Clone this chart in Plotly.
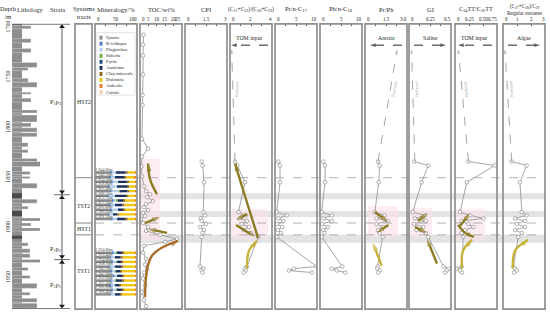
import plotly.graph_objects as go

W, H = 550, 313
FONT = "Liberation Serif, DejaVu Serif, serif"
TXT = "#2b2b2b"


def px(x):
    return x / W


def py(y):
    return 1 - y / H


# ---------------- data ----------------
depth_ticks = [1700, 1750, 1800, 1850, 1900, 1950]
depth_top, depth_bottom = 1696.5, 1981.0

column_top, column_bottom, column_width = 1696.5, 1980.5, 10
lith_top = [1698.5, 1711.4, 1721.2, 1735.1, 1740.1, 1750.9, 1754.8, 1764.7, 1770.7, 1782.5,
            1787.5, 1795.4, 1800.3, 1805.2, 1815.1, 1822.0, 1830.9, 1833.9, 1843.8, 1848.7,
            1855.6, 1871.4, 1878.4, 1890.2, 1895.2, 1900.1, 1915.0, 1920.9, 1925.8, 1931.7,
            1939.6, 1947.5, 1955.4, 1964.3, 1970.3, 1975.2]
lith_bot = [1701.5, 1715.3, 1725.2, 1740.1, 1743.0, 1754.8, 1759.8, 1766.7, 1774.6, 1785.5,
            1794.4, 1799.3, 1804.3, 1809.2, 1819.1, 1825.0, 1833.9, 1838.9, 1846.7, 1850.7,
            1860.6, 1875.4, 1881.3, 1893.2, 1898.1, 1903.1, 1918.0, 1924.8, 1929.8, 1934.7,
            1942.6, 1950.5, 1960.4, 1967.2, 1974.2, 1980.1]
lith_ext = [19, 19, 19, 25, 16, 16, 25, 19, 19, 25,
            25, 19, 25, 25, 16, 16, 25, 43, 18, 18,
            25, 25, 16, 43, 19, 28, 16, 18, 18, 43,
            16, 18, 25, 18, 25, 25]
dark_top = [1865.5, 1883.3, 1908.0]
dark_bot = [1870.5, 1888.2, 1911.0]

strata_bounds = [1867.0, 1931.7]
strata_names = ["P<sub>1</sub>p<sub>3</sub>", "P<sub>1</sub>p<sub>2</sub>", "P<sub>1</sub>p<sub>1</sub>"]
strata_label_depths = [1774.6, 1920.8, 1957.4]

tract_bounds = [1850.0, 1895.2, 1907.0]
tract_names = ["HST2", "TST2", "HST1", "TST1"]
tract_label_depths = [1774.6, 1878.4, 1901.1, 1942.6]

band_top = [1865.5, 1883.3, 1907.0]
band_bot = [1871.4, 1889.2, 1915.0]

mineral_names = ["Quartz", "K-feldspar", "Plagioclase", "Siderite", "Pyrite", "Analcime",
                 "Clay minerals", "Dolomite", "Ankerite", "Calcite"]
mineral_colors = ["#8c8c8c", "#4f81bd", "#b7cde8", "#70ad47", "#1f4e79", "#1c2f5e",
                  "#8c6a2a", "#efc70f", "#ed7d31", "#f8cbad"]
mineral_depths = [1844.8, 1849.5, 1854.2, 1858.8, 1863.4, 1868.1, 1872.7, 1877.3, 1882.0, 1886.6, 1891.2,
                  1924.8, 1929.4, 1934.0, 1938.7, 1943.3, 1947.9, 1952.6, 1957.2, 1961.8, 1966.4]
quartz = [38, 35, 40, 33, 36, 30, 42, 35, 38, 32, 40, 42, 36, 40, 34, 38, 44, 37, 35, 40, 36]
k_feldspar = [2, 3, 2, 2, 3, 2, 2, 2, 2, 2, 2, 2, 2, 3, 2, 2, 2, 2, 3, 2, 2]
plagioclase = [12, 10, 14, 18, 20, 16, 8, 12, 15, 10, 12, 8, 10, 8, 12, 9, 8, 10, 11, 9, 10]
siderite = [0, 0, 0, 0, 2, 0, 3, 0, 2, 0, 0, 2, 0, 3, 0, 2, 0, 3, 0, 2, 0]
pyrite = [1, 1, 2, 1, 1, 1, 1, 2, 1, 1, 1, 1, 1, 1, 1, 1, 1, 1, 1, 1, 1]
analcime = [20, 22, 18, 24, 15, 25, 12, 14, 10, 8, 18, 10, 12, 8, 14, 9, 10, 12, 9, 10, 11]
clay = [5, 4, 6, 4, 5, 6, 4, 5, 4, 5, 5, 4, 5, 4, 5, 4, 4, 5, 4, 5, 4]
dolomite = [18, 20, 14, 14, 14, 16, 24, 26, 24, 38, 18, 27, 30, 29, 28, 31, 27, 26, 33, 27, 32]
ankerite = [2, 3, 2, 2, 2, 2, 2, 2, 2, 2, 2, 2, 2, 2, 2, 2, 2, 2, 2, 2, 2]
calcite = [2, 2, 2, 2, 2, 2, 2, 2, 2, 2, 2, 2, 2, 2, 2, 2, 2, 2, 2, 2, 2]

toc_depth = [1707.4, 1717.3, 1728.2, 1747.0, 1767.7, 1777.6, 1811.2, 1821.0, 1829.0, 1838.8,
             1848.7, 1858.6, 1863.5, 1866.5, 1869.5, 1873.4, 1876.4, 1879.4, 1882.3, 1885.3,
             1888.2, 1891.2, 1895.2, 1899.1, 1903.1, 1907.0, 1911.0, 1914.0, 1917.9, 1924.8,
             1930.8, 1936.7, 1940.7, 1944.6, 1950.5, 1957.4, 1964.3, 1972.2, 1978.2]
toc = [2.1, 1.8, 1.8, 1.8, 1.5, 1.5, 1.2, 4.8, 1.2, 0.9,
       1.2, 2.4, 3.6, 6.0, 4.2, 7.7, 3.6, 2.4, 4.8, 1.8,
       3.0, 0.6, 1.8, 4.8, 3.6, 12.0, 22.0, 15.0, 2.4, 1.8,
       3.6, 3.0, 4.2, 2.4, 1.8, 3.0, 1.2, 2.4, 3.6]

geo_depth = [1833.9, 1837.8, 1854.6, 1884.3, 1887.6, 1890.6, 1893.2, 1896.2, 1899.2, 1902.2,
             1905.1, 1909.1, 1938.6, 1940.7, 1942.6, 1944.6]
cpi = [1.19, 1.26, 1.36, 1.31, 1.43, 1.12, 1.19, 1.50, 1.07, 1.36, 1.26, 1.19, 1.07, 1.31, 1.19, 1.26]
c21_c28 = [0.48, 0.70, 1.43, 0.80, 1.50, 0.90, 1.60, 1.10, 1.80, 1.30, 2.00, 2.70, 1.60, 1.43, 1.50, 1.30]
pr_nc17 = [0.8, 1.2, 1.2, 0.4, 2.8, 0.8, 2.0, 0.5, 1.7, 0.7, 1.4, 0.4, 9.9, 4.5, 3.3, 8.8]
ph_nc18 = [0.8, 1.2, 1.2, 0.4, 2.8, 0.8, 2.8, 0.5, 1.9, 0.8, 1.1, 0.4, 5.3, 2.8, 4.0, 6.0]
pr_ph = [0.93, 1.05, 0.98, 0.70, 1.40, 0.82, 1.63, 0.82, 1.28, 0.93, 1.05, 1.26, 0.90, 0.88, 1.05, 0.95]
gi = [0.06, 0.23, 0.15, 0.044, 0.19, 0.07, 0.20, 0.06, 0.17, 0.09, 0.20, 0.23, 0.41, 0.47, 0.45, 0.43]
c24_c26 = [0.24, 0.71, 0.21, 0.09, 0.27, 0.51, 0.12, 0.24, 0.33, 0.18, 0.12, 0.15, 0.12, 0.03, 0.09, 0.125]
steranes = [0.62, 1.69, 1.21, 1.34, 1.69, 0.86, 1.57, 0.98, 1.57, 0.86, 1.34, 1.09, 0.74, 0.86, 0.98, 0.79]

# predicted trends, listed bottom -> top
pred_depth = [1833.9, 1722.0]
c21_pred = [0.48, 0.16]
prph_pred = [0.93, 2.30]
gi_pred = [0.07, 0.03]
c24_pred = [0.24, 0.06]
ster_pred = [0.62, 0.14]

# ---------------- panels ----------------
panels = [
    ("x2", 95, 137, [0, 100], [0, 25, 50, 75, 100], ["0", "", "50", "", "100"], "Mineralogy/%", 6.5, 1),
    ("x3", 140, 182, [0, 25], [0, 5, 10, 15, 20, 25], ["0", "5", "10", "15", "20", "25"], "TOC/wt%", 6.5, 1),
    ("x4", 185, 227, [0, 3], [0, 0.75, 1.5, 2.25, 3], ["0", "", "1.5", "", "3"], "CPI", 6.5, 1),
    ("x5", 230, 272, [0, 4], [0, 1, 2, 3, 4], ["0", "", "2", "", "4"],
     "(C<sub>21</sub>+C<sub>22</sub>)/(C<sub>28</sub>+C<sub>29</sub>)", 5.6, 1),
    ("x6", 275, 317, [0, 10], [0, 2.5, 5, 7.5, 10], ["0", "", "5", "", "10"], "Pr/n-C<sub>17</sub>", 6.5, 1),
    ("x7", 320, 362, [0, 10], [0, 2.5, 5, 7.5, 10], ["0", "", "5", "", "10"], "Ph/n-C<sub>18</sub>", 6.5, 1),
    ("x8", 365, 407, [0, 3], [0, 0.75, 1.5, 2.25, 3], ["0", "", "1.5", "", "3.0"], "Pr/Ph", 6.5, 1),
    ("x9", 409, 451, [0, 0.5], [0, 0.125, 0.25, 0.375, 0.5], ["0", "", "0.25", "", "0.5"], "GI", 6.5, 1),
    ("x10", 455, 497, [0, 0.75], [0, 0.25, 0.5, 0.75], ["0", "0.25", "0.50", "0.75"],
     "C<sub>24</sub>TT/C<sub>26</sub>TT", 6.2, 1),
    ("x11", 503, 545, [0, 3], [0, 1, 2, 3], ["0", "1", "2", "3"],
     "(C<sub>27</sub>+C<sub>28</sub>)/C<sub>29</sub><br>Regular steranes", 5.3, 2),
]

fig = go.Figure()
LINE_C = "#8f8f8f"


def noinfo(**kw):
    kw.setdefault("showlegend", False)
    kw.setdefault("hoverinfo", "skip")
    return kw


# ---- lithology ----
fig.add_trace(go.Bar(**noinfo(x=[column_width], y=[(column_top + column_bottom) / 2],
                              width=[column_bottom - column_top], base=0, orientation="h", xaxis="x", yaxis="y",
                              marker=dict(color="#8e8e8e", line=dict(width=0)))))
fig.add_trace(go.Bar(**noinfo(x=lith_ext, y=[(a + b) / 2 for a, b in zip(lith_top, lith_bot)],
                              width=[b - a for a, b in zip(lith_top, lith_bot)], base=0, orientation="h",
                              xaxis="x", yaxis="y",
                              marker=dict(color="#8e8e8e", line=dict(color="#ffffff", width=0.3)))))
fig.add_trace(go.Bar(**noinfo(x=[column_width] * len(dark_top), y=[(a + b) / 2 for a, b in zip(dark_top, dark_bot)],
                              width=[b - a for a, b in zip(dark_top, dark_bot)], base=0, orientation="h",
                              xaxis="x", yaxis="y", marker=dict(color="#4a4a4a", line=dict(width=0)))))

# ---- strata arrowheads (hidden axis x12) ----
strata_x = 62
tri_depths = [depth_top + 3.0] + [b + s for b in strata_bounds for s in (-3.0, 3.0)] + [column_bottom - 2.5]
tri_syms = ["triangle-up"] + ["triangle-down", "triangle-up"] * len(strata_bounds) + ["triangle-down"]
fig.add_trace(go.Scatter(**noinfo(x=[strata_x] * len(tri_depths), y=tri_depths, mode="markers",
                                  xaxis="x12", yaxis="y",
                                  marker=dict(symbol=tri_syms, size=5, color="#111", line=dict(width=0)))))

# ---- mineralogy ----
mineral_values = [quartz, k_feldspar, plagioclase, siderite, pyrite, analcime, clay, dolomite, ankerite, calcite]
cum = [0] * len(mineral_depths)
for name, color, vals in zip(mineral_names, mineral_colors, mineral_values):
    fig.add_trace(go.Bar(**noinfo(x=vals, y=mineral_depths, base=list(cum), width=2.4, orientation="h",
                                  xaxis="x2", yaxis="y", marker=dict(color=color, line=dict(width=0)), name=name)))
    cum = [c + v for c, v in zip(cum, vals)]
fig.add_trace(go.Scatter(**noinfo(x=[1] * len(mineral_depths), y=[d - 2.3 for d in mineral_depths],
                                  text=[f"{d:,.2f}m" for d in mineral_depths], mode="text",
                                  textposition="middle right",
                                  textfont=dict(size=4.0, family=FONT, color="#444"), xaxis="x2", yaxis="y")))


def series(xvals, yvals, axis):
    fig.add_trace(go.Scatter(**noinfo(x=xvals, y=yvals, mode="lines+markers", xaxis=axis, yaxis="y",
                                      line=dict(color=LINE_C, width=0.8),
                                      marker=dict(symbol="circle", size=3.6, color="white",
                                                  line=dict(color="#7d7d7d", width=0.6)))))


series(toc, toc_depth, "x3")
series(cpi, geo_depth, "x4")
series(c21_c28, geo_depth, "x5")
series(pr_nc17, geo_depth, "x6")
series(ph_nc18, geo_depth, "x7")
series(pr_ph, geo_depth, "x8")
series(gi, geo_depth, "x9")
series(c24_c26, geo_depth, "x10")
series(steranes, geo_depth, "x11")


def arrow_line(axis, xs, ys, color, width, dash="solid", shape="linear", head=6):
    n = len(xs)
    fig.add_trace(go.Scatter(**noinfo(x=xs, y=ys, mode="lines+markers", xaxis=axis, yaxis="y",
                                      line=dict(color=color, width=width, dash=dash, shape=shape),
                                      marker=dict(symbol=["circle"] * (n - 1) + ["arrow"],
                                                  size=[0] * (n - 1) + [head], angleref="previous",
                                                  color=color, line=dict(width=0)))))


preds = [("x5", c21_pred, -88), ("x8", prph_pred, -79), ("x9", gi_pred, -92),
         ("x10", c24_pred, -95), ("x11", ster_pred, -94)]
for axis, vals, ang in preds:
    arrow_line(axis, vals, pred_depth, "#9a9a9a", 0.9, dash="dash", head=4.5)

# ---- trend arrows (axis, points [(x, depth)...] tail -> head, color) ----
OLIVE = "#8b7b22"
YEL = "#c6b23a"
ORNG = "#a86e2a"
trend_arrows = [
    ("x3", [(10.1, 1866.5), (6.0, 1851.7), (4.8, 1835.9)], OLIVE),
    ("x3", [(3.0, 1895.2), (11.9, 1889.2)], OLIVE),
    ("x3", [(16.1, 1905.1), (4.8, 1901.1)], OLIVE),
    ("x3", [(3.0, 1969.3), (7.1, 1927.8), (22.6, 1913.0)], ORNG),
    ("x5", [(2.67, 1910.0), (1.43, 1868.5), (0.48, 1835.9)], OLIVE),
    ("x5", [(1.62, 1886.3), (0.57, 1892.2)], OLIVE),
    ("x5", [(0.57, 1897.1), (2.38, 1909.0)], OLIVE),
    ("x5", [(1.62, 1940.6), (1.81, 1922.8), (2.57, 1913.0)], YEL),
    ("x8", [(0.70, 1884.3), (1.67, 1894.2)], OLIVE),
    ("x8", [(1.67, 1897.1), (0.84, 1905.1)], OLIVE),
    ("x8", [(1.19, 1937.7), (0.56, 1914.9)], YEL),
    ("x9", [(0.107, 1893.2), (0.226, 1885.3)], OLIVE),
    ("x9", [(0.071, 1899.1), (0.214, 1905.1)], OLIVE),
    ("x9", [(0.333, 1935.7), (0.214, 1911.0)], OLIVE),
    ("x10", [(0.089, 1898.1), (0.268, 1885.3)], OLIVE),
    ("x10", [(0.054, 1897.1), (0.179, 1905.0), (0.339, 1909.1)], OLIVE),
    ("x10", [(0.125, 1940.6), (0.143, 1922.8), (0.304, 1911.9)], YEL),
    ("x11", [(0.71, 1940.6), (0.86, 1922.8), (1.79, 1911.9)], YEL),
]
for axis, pts, col in trend_arrows:
    arrow_line(axis, [p[0] for p in pts], [p[1] for p in pts], col, 2.4,
               shape="spline" if len(pts) > 2 else "linear", head=8)

# ---- direction indicators: (axis, label, tail x, head x) ----
direction_depth = 1717.8
directions = [("x5", "TOM input", 3.62, 0.10), ("x8", "Anoxic", 2.64, 0.36), ("x9", "Saline", 0.06, 0.44),
              ("x10", "TOM input", 0.66, 0.054), ("x11", "Algae", 0.36, 2.64)]
for axis, label, xa, xb in directions:
    arrow_line(axis, [xa, xb], [direction_depth, direction_depth], "#222", 1.0, dash="dash", head=6)

# ---------------- layout ----------------
layout = dict(
    width=W, height=H, margin=dict(l=0, r=0, t=0, b=0), autosize=False,
    paper_bgcolor="white", plot_bgcolor="white", barmode="overlay", showlegend=False,
    font=dict(family=FONT, color=TXT, size=6),
)
layout["yaxis"] = dict(domain=[py(309), py(21)], range=[depth_bottom, depth_top], tickvals=depth_ticks,
                       tickangle=-90, tickfont=dict(size=6, family=FONT, color=TXT), showgrid=False,
                       zeroline=False, showline=False, ticks="", anchor="x", fixedrange=True)
layout["xaxis"] = dict(domain=[px(12), px(56)], range=[0, 44], visible=False, anchor="y", fixedrange=True)
layout["xaxis12"] = dict(domain=[px(40), px(72)], range=[40, 72], visible=False, anchor="y", fixedrange=True)

shapes = []
annotations = []


def ann(x, y, text, size=6.5, xref="paper", yref="paper", **kw):
    d = dict(x=x, y=y, xref=xref, yref=yref, text=text, showarrow=False, xanchor="center", yanchor="middle",
             font=dict(size=size, family=FONT, color=kw.pop("color", TXT)))
    d.update(kw)
    return d


for axis, x0, x1, rng, tv, tt, title, tsize, nl in panels:
    key = "xaxis" + axis[1:]
    layout[key] = dict(domain=[px(x0), px(x1)], range=rng, anchor="y", side="top", tickvals=tv,
                       showticklabels=False, ticks="inside", ticklen=2, tickwidth=0.6, tickcolor="#555",
                       showgrid=False, zeroline=False, showline=False, fixedrange=True)
    shapes.append(dict(type="rect", xref="paper", yref="paper", x0=px(x0), x1=px(x1), y0=py(309), y1=py(21),
                       line=dict(color="#8f8f8f", width=1.7), layer="above"))
    annotations.append(ann(px((x0 + x1) / 2), py(6.5 if nl == 1 else 7.0), title, tsize))
    for v, t in zip(tv, tt):
        if not t:
            continue
        if v == rng[0]:
            xa, sh = "left", 0
        elif v == rng[1]:
            xa, sh = "right", 1.5
        else:
            xa, sh = "center", 0
        annotations.append(ann(v, py(16.5), t, 5.1, xref=axis, xanchor=xa, xshift=sh))

# bands, pink zones and dashed boundaries
for a, b in zip(band_top, band_bot):
    shapes.append(dict(type="rect", xref="paper", yref="y", x0=px(140), x1=px(545), y0=a, y1=b,
                       fillcolor="#d9d9d9", opacity=0.75, line=dict(width=0), layer="below"))
pinks = [(141, 160, 1831.0, 1913.0), (231, 268, 1881.3, 1911.0), (368, 398, 1878.4, 1909.0),
         (410, 432, 1880.0, 1910.0), (456, 485, 1881.0, 1913.0)]
for x0, x1, a, b in pinks:
    shapes.append(dict(type="rect", xref="paper", yref="y", x0=px(x0), x1=px(x1), y0=a, y1=b,
                       fillcolor="#fbe1ea", opacity=0.6, line=dict(width=0), layer="below"))
for d in tract_bounds:
    shapes.append(dict(type="line", xref="paper", yref="y", x0=px(95), x1=px(545), y0=d, y1=d,
                       line=dict(color="#a0a0a0", width=0.8, dash="dash"), layer="below"))
    shapes.append(dict(type="line", xref="paper", yref="y", x0=px(75), x1=px(92), y0=d, y1=d,
                       line=dict(color="#8a8a8a", width=1)))

# systems tracts box
shapes.append(dict(type="rect", xref="paper", yref="paper", x0=px(75), x1=px(92), y0=py(309), y1=py(21),
                   line=dict(color="#8f8f8f", width=1.7)))
for name, d in zip(tract_names, tract_label_depths):
    annotations.append(ann(px(83.5), d, name, 5.8, yref="y"))

# strata column
shapes.append(dict(type="line", xref="paper", yref="paper", x0=px(62), x1=px(62), y0=py(22), y1=py(307),
                   line=dict(color="#333", width=0.8)))
for yy in (21.5, 308.5):
    shapes.append(dict(type="line", xref="paper", yref="paper", x0=px(12), x1=px(70), y0=py(yy), y1=py(yy),
                       line=dict(color="#555", width=0.8)))
for d in strata_bounds:
    shapes.append(dict(type="line", xref="paper", yref="y", x0=px(54), x1=px(70), y0=d, y1=d,
                       line=dict(color="#333", width=0.7)))
for name, d in zip(strata_names, strata_label_depths):
    annotations.append(ann(px(55), d, name, 6.2, yref="y"))

# left headers
for x, y, t in [(8, 9.5, "Depth<br>/m"), (30, 6.5, "Lithology"), (57, 6.5, "Strata"),
                (83.5, 9.5, "Systems<br>tracts")]:
    annotations.append(ann(px(x), py(y), t, 6.5))

# mineral legend
shapes.append(dict(type="rect", xref="paper", yref="paper", x0=px(97), x1=px(135), y0=py(93), y1=py(30),
                   line=dict(color="#c8c8c8", width=0.5), fillcolor="white"))
for i, (name, col) in enumerate(zip(mineral_names, mineral_colors)):
    yy = 35 + i * 6.1
    shapes.append(dict(type="rect", xref="paper", yref="paper", x0=px(99.5), x1=px(102.5),
                       y0=py(yy + 2), y1=py(yy - 2), fillcolor=col, line=dict(width=0)))
    annotations.append(ann(px(104), py(yy), name, 4.8, xanchor="left"))

# direction labels
for axis, label, xa, xb in directions:
    annotations.append(ann((xa + xb) / 2, py(35.5), label, 5.8, xref=axis))

# predicted labels
for axis, vals, ang in preds:
    f = 0.65
    xm = vals[0] + f * (vals[1] - vals[0])
    dm = pred_depth[0] + f * (pred_depth[1] - pred_depth[0])
    annotations.append(ann(xm, dm, "Predicted", 4.2, xref=axis, yref="y", xshift=4, textangle=ang,
                           color="#a8a8a8"))

layout["shapes"] = shapes
layout["annotations"] = annotations
fig.update_layout(**layout)
fig.write_html("out.html", config={"displayModeBar": False},
               post_script="document.body.style.margin='0';")
